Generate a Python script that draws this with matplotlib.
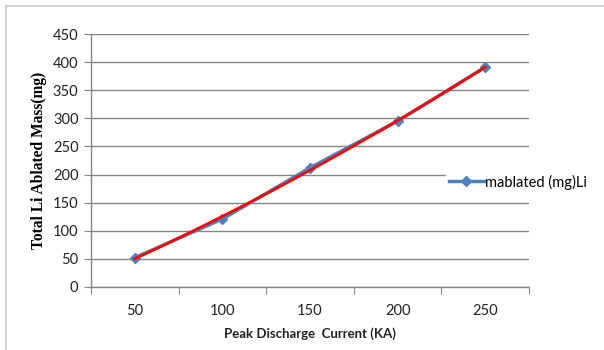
import matplotlib
matplotlib.use("Agg")
import matplotlib.pyplot as plt
import numpy as np
from matplotlib.patches import Rectangle

# data
current = [50, 100, 150, 200, 250]
mass = [52, 121, 212, 295, 391]
series_label = "mablated (mg)Li"

plt.rcParams["font.family"] = ["Lato", "DejaVu Sans"]

fig = plt.figure(figsize=(6.04, 3.5), dpi=100)
fig.patch.set_facecolor("white")
fig.patches.append(Rectangle((6 / 604, -0.1), 1.2, 1 - 6 / 350 + 0.1, transform=fig.transFigure,
                             fill=False, edgecolor="#c8c8c8", linewidth=1.2, zorder=0))

ax = fig.add_axes([91 / 604, 1 - 287 / 350, (529 - 91) / 604, (287 - 34) / 350])
pos = np.arange(len(current))

ax.plot(pos, mass, color="#4F81BD", lw=2.5, marker="D", ms=5.5,
        markerfacecolor="#4F81BD", markeredgecolor="#4F81BD", label=series_label, zorder=3)

# polynomial trendline (order 2), as Excel draws it
coef = np.polyfit(current, mass, 2)
xs = np.linspace(current[0], current[-1], 100)
xs_pos = (xs - current[0]) / (current[1] - current[0])
ax.plot(xs_pos, np.polyval(coef, xs), color="#ff0000", lw=2, zorder=4)

ax.set_xlim(-0.5, len(current) - 0.5)
ax.set_ylim(0, 450)
ax.set_yticks(np.arange(0, 451, 50))
ax.set_xticks(np.arange(-0.5, len(current), 1.0))
ax.set_xticklabels([])
ax.set_xticks(pos, minor=True)
ax.set_xticklabels([str(c) for c in current], minor=True)
ax.tick_params(axis="x", which="minor", length=0, pad=12, labelsize=10.5, labelcolor="#222222")
ax.tick_params(axis="x", which="major", length=5, color="#868686", direction="out")
ax.tick_params(axis="y", length=5, color="#868686", direction="out", labelsize=10.5,
               labelcolor="#222222", pad=4)

ax.grid(axis="y", color="#868686", lw=1)
ax.set_axisbelow(True)
for s in ["top", "right"]:
    ax.spines[s].set_visible(False)
for s in ["left", "bottom"]:
    ax.spines[s].set_color("#868686")
    ax.spines[s].set_linewidth(1)

ax.set_xlabel("Peak Discharge  Current (KA)", fontsize=9.5, fontweight="bold",
              color="#222222", labelpad=7)
ax.set_ylabel("Total Li Ablated Mass(mg)", fontsize=11.2, fontweight="bold",
              family="Liberation Serif", labelpad=4)

leg = ax.legend(loc="center left", bbox_to_anchor=(0.81, 0.415), frameon=True,
                fontsize=10.5, handlelength=2.4, handletextpad=0.1, borderpad=0.2,
                borderaxespad=0)
leg.get_frame().set_edgecolor("white")
leg.get_frame().set_facecolor("white")
leg.get_frame().set_alpha(1)
leg.set_zorder(5)

fig.savefig("out.png", dpi=100)
